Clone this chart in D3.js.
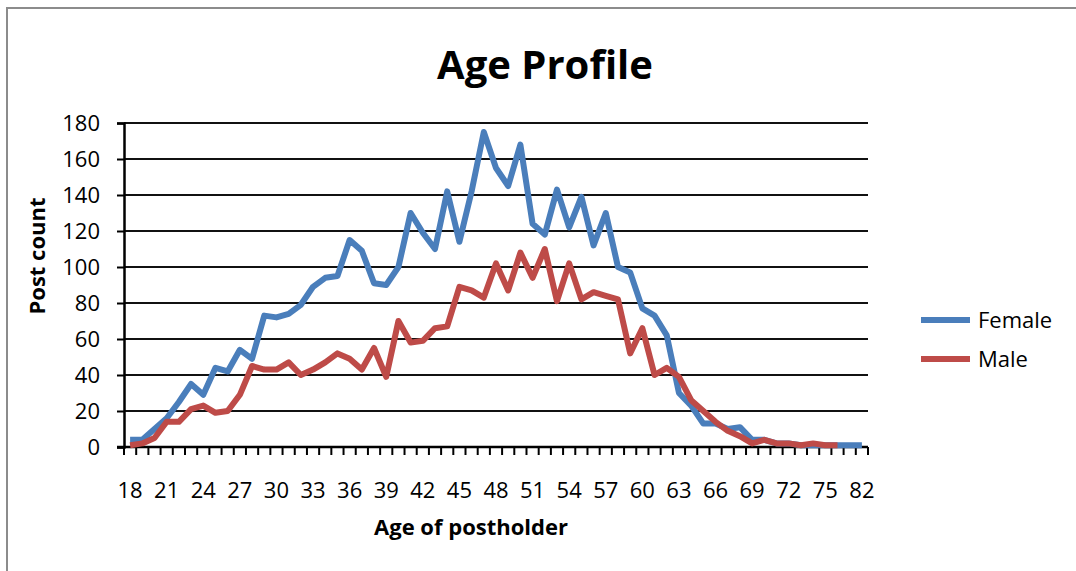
<!DOCTYPE html>
<html>
<head>
<meta charset="utf-8">
<script src="https://cdnjs.cloudflare.com/ajax/libs/d3/7.8.5/d3.min.js"></script>
<style>
  body { margin: 0; background: #fff; }
  text { font-family: "Open Sans", sans-serif; fill: #000; }
</style>
</head>
<body>
<svg width="1076" height="571"></svg>
<script>
let ages = [18, 19, 20, 21, 22, 23, 24, 25, 26, 27, 28, 29, 30, 31, 32, 33, 34, 35, 36, 37,
  38, 39, 40, 41, 42, 43, 44, 45, 46, 47, 48, 49, 50, 51, 52, 53, 54, 55, 56, 57,
  58, 59, 60, 61, 62, 63, 64, 65, 66, 67, 68, 69, 70, 71, 72, 73, 74, 75, 76, 79, 82];

let female = [4, 4, 10, 16, 25, 35, 29, 44, 42, 54, 49, 73, 72, 74, 79, 89, 94, 95, 115, 109,
  91, 90, 100, 130, 119, 110, 142, 114, 142, 175, 155, 145, 168, 124, 118, 143, 122, 139, 112, 130,
  100, 97, 77, 73, 62, 30, 23, 13, 13, 10, 11, 4, 4, 2, 2, 1, 1, 1, 1, 1, 1];

let male = [1, 2, 5, 14, 14, 21, 23, 19, 20, 29, 45, 43, 43, 47, 40, 43, 47, 52, 49, 43,
  55, 39, 70, 58, 59, 66, 67, 89, 87, 83, 102, 87, 108, 94, 110, 81, 102, 82, 86, 84,
  82, 52, 66, 40, 44, 39, 26, 20, 14, 9, 6, 2, 4, 2, 2, 1, 2, 1, 1, null, null];

let yTicks = [0, 20, 40, 60, 80, 100, 120, 140, 160, 180];

let seriesNames = ["Female", "Male"];
let colors = ["#4a7ebb", "#be4b48"];

let svg = d3.select("svg");
let plotLeft = 124, plotRight = 868, plotTop = 123, plotBottom = 447;

svg.append("rect")
  .attr("x", 7).attr("y", 8)
  .attr("width", 1100).attr("height", 600)
  .attr("fill", "none")
  .attr("stroke", "#8c8c8c")
  .attr("stroke-width", 2);

let xScale = d3.scaleBand()
  .domain(ages)
  .range([plotLeft, plotRight]);

let yScale = d3.scaleLinear()
  .domain([0, 180])
  .range([plotBottom, plotTop]);

// gridlines
svg.append("g")
  .selectAll("line")
  .data(yTicks)
  .enter()
  .append("line")
  .attr("x1", plotLeft)
  .attr("x2", plotRight)
  .attr("y1", d => yScale(d))
  .attr("y2", d => yScale(d))
  .attr("stroke", "#111")
  .attr("stroke-width", 2);

// y axis
let yAxis = svg.append("g")
  .attr("transform", "translate(" + plotLeft + ",0)")
  .call(d3.axisLeft(yScale).tickValues(yTicks).tickSize(7).tickPadding(17));
yAxis.select(".domain").attr("stroke", "#000").attr("stroke-width", 2.5);
yAxis.selectAll(".tick line").attr("stroke", "#000").attr("stroke-width", 2);
yAxis.selectAll(".tick text")
  .style("font-size", "22px")
  .style("font-family", "Open Sans");

// x axis: ticks between categories
let xAxis = svg.append("g")
  .attr("transform", "translate(0," + plotBottom + ")");
xAxis.append("line")
  .attr("x1", plotLeft - 7).attr("x2", plotRight)
  .attr("y1", 0).attr("y2", 0)
  .attr("stroke", "#000").attr("stroke-width", 2.5);
let tickPos = ages.map(a => xScale(a)).concat([plotRight]);
xAxis.selectAll(".xt")
  .data(tickPos)
  .enter()
  .append("line")
  .attr("class", "xt")
  .attr("x1", d => d).attr("x2", d => d)
  .attr("y1", 0).attr("y2", 8)
  .attr("stroke", "#000").attr("stroke-width", 2);
xAxis.selectAll(".xl")
  .data(ages.filter((a, i) => i % 3 === 0))
  .enter()
  .append("text")
  .attr("class", "xl")
  .attr("x", d => xScale(d) + xScale.bandwidth() / 2)
  .attr("y", 51)
  .attr("text-anchor", "middle")
  .style("font-size", "22px")
  .text(d => d);

// lines
let line = d3.line()
  .defined(d => d != null)
  .x((d, i) => xScale(ages[i]) + xScale.bandwidth() / 2)
  .y(d => yScale(d));

[female, male].forEach(function(s, k) {
  svg.append("path")
    .datum(s)
    .attr("fill", "none")
    .attr("stroke", colors[k])
    .attr("stroke-width", 6)
    .attr("stroke-linejoin", "round")
    .attr("d", line);
});

// titles
svg.append("text")
  .attr("x", 545).attr("y", 79)
  .attr("text-anchor", "middle")
  .style("font-size", "40px")
  .style("font-weight", "bold")
  .text("Age Profile");

svg.append("text")
  .attr("x", 471).attr("y", 535)
  .attr("text-anchor", "middle")
  .style("font-size", "22px")
  .style("font-weight", "bold")
  .text("Age of postholder");

svg.append("text")
  .attr("transform", "translate(45,256) rotate(-90)")
  .attr("text-anchor", "middle")
  .style("font-size", "22px")
  .style("font-weight", "bold")
  .text("Post count");

// legend
let legend = svg.append("g");
seriesNames.forEach(function(name, k) {
  let y = 320 + k * 39;
  legend.append("line")
    .attr("x1", 921).attr("x2", 970)
    .attr("y1", y).attr("y2", y)
    .attr("stroke", colors[k])
    .attr("stroke-width", 6);
  legend.append("text")
    .attr("x", 978).attr("y", y + 8)
    .style("font-size", "22px")
    .text(name);
});
</script>
</body>
</html>
